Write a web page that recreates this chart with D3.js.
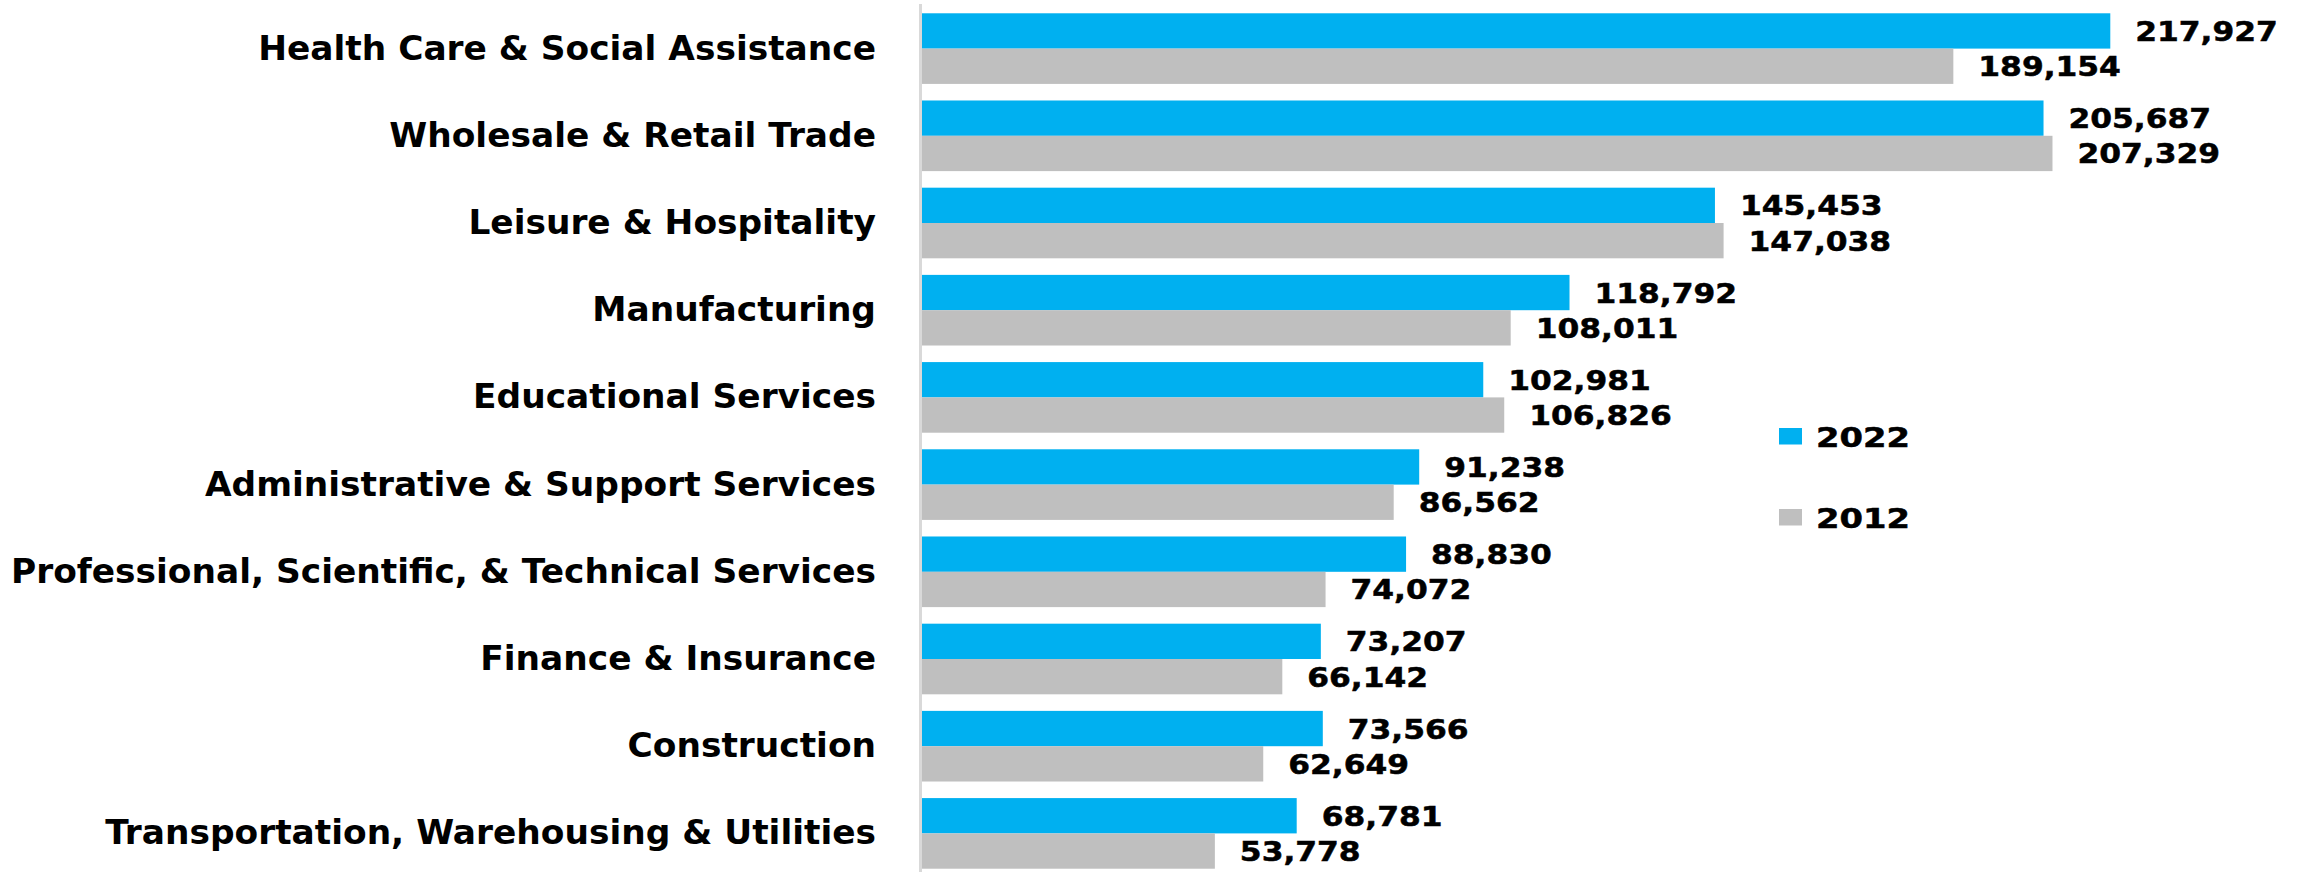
<!DOCTYPE html>
<html>
<head>
<meta charset="utf-8">
<script src="https://cdn.jsdelivr.net/npm/d3@7"></script>
<style>
  html, body { margin: 0; padding: 0; background: #ffffff; }
  svg { display: block; }
  text { font-family: "DejaVu Sans", Verdana, sans-serif; font-weight: bold; fill: #000; }
</style>
</head>
<body>
<svg id="chart" width="2300" height="872"></svg>
<script>
// Employment by industry, 2022 vs 2012
const categories = [
  "Health Care & Social Assistance",
  "Wholesale & Retail Trade",
  "Leisure & Hospitality",
  "Manufacturing",
  "Educational Services",
  "Administrative & Support Services",
  "Professional, Scientific, & Technical Services",
  "Finance & Insurance",
  "Construction",
  "Transportation, Warehousing & Utilities"
];
const seriesNames = ["2022", "2012"];
const values2022 = [217927, 205687, 145453, 118792, 102981, 91238, 88830, 73207, 73566, 68781];
const values2012 = [189154, 207329, 147038, 108011, 106826, 86562, 74072, 66142, 62649, 53778];
const seriesColors = ["#00B0F0", "#BFBFBF"];

const svg = d3.select("#chart");
const W = 2300, H = 872;
const axisX = 920;

const rows = categories.map((c, i) => ({
  category: c,
  values: [
    { series: seriesNames[0], value: values2022[i] },
    { series: seriesNames[1], value: values2012[i] }
  ]
}));

const y = d3.scaleBand()
  .domain(categories)
  .range([5, 877])
  .paddingInner(0.19)
  .paddingOuter(0.095);

const ySub = d3.scaleBand()
  .domain(seriesNames)
  .range([0, y.bandwidth()]);

const x = d3.scaleLinear()
  .domain([0, 250000])
  .range([axisX + 1.5, axisX + 1.5 + 250000 * 0.005455]);

const color = d3.scaleOrdinal().domain(seriesNames).range(seriesColors);
const fmt = d3.format(",");

// bars
const groups = svg.append("g").selectAll("g")
  .data(rows)
  .join("g")
  .attr("transform", d => `translate(0,${y(d.category)})`);

groups.selectAll("rect")
  .data(d => d.values)
  .join("rect")
  .attr("x", x(0))
  .attr("y", d => ySub(d.series))
  .attr("width", d => x(d.value) - x(0))
  .attr("height", ySub.bandwidth())
  .attr("fill", d => color(d.series));

// value labels
groups.selectAll("text.value")
  .data(d => d.values)
  .join("text")
  .attr("class", "value")
  .attr("transform", d => `translate(${x(d.value) + 25},${ySub(d.series) + ySub.bandwidth() / 2 + 10}) scale(1.16,1)`)
  .style("font-size", "27px")
  .style("stroke", "#000")
  .style("stroke-width", "0.5px")
  .text(d => fmt(d.value));

// category axis
const yAxis = svg.append("g")
  .attr("transform", `translate(${axisX},0)`)
  .call(d3.axisLeft(y).tickSize(0).tickPadding(44));

yAxis.select(".domain")
  .attr("d", `M0.5,4V${H}`)
  .attr("stroke", "#D9D9D9")
  .attr("stroke-width", 3);

yAxis.selectAll(".tick text")
  .attr("dy", null)
  .attr("y", 11)
  .style("font-size", "34.4px")
  .style("font-family", "'DejaVu Sans', Verdana, sans-serif")
  .style("font-weight", "bold")
  .attr("fill", "#000");

// legend
const legend = svg.append("g").attr("transform", "translate(1779,428)");
const legendItems = legend.selectAll("g")
  .data(seriesNames)
  .join("g")
  .attr("transform", (d, i) => `translate(0,${i * 81})`);

legendItems.append("rect")
  .attr("width", 23)
  .attr("height", 16.5)
  .attr("fill", d => color(d));

legendItems.append("text")
  .attr("transform", "translate(37,18.5) scale(1.25,1)")
  .style("font-size", "27px")
  .style("stroke", "#000")
  .style("stroke-width", "0.5px")
  .text(d => d);
</script>
</body>
</html>
